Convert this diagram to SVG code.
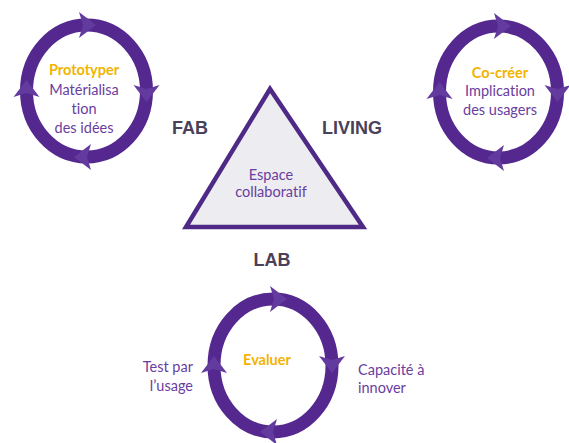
<svg xmlns="http://www.w3.org/2000/svg" xmlns:xlink="http://www.w3.org/1999/xlink" width="569" height="443" viewBox="0 0 569 443">
<style>
.ring{fill:none;stroke:#55288f;stroke-width:13}
.ah{fill:#633a9e}
.t{font-family:Lato,"Liberation Sans",sans-serif;font-size:14.5px;fill:#6a3d9e;text-anchor:middle;font-variant-ligatures:none}
.y{font-family:Lato,"Liberation Sans",sans-serif;font-size:14.5px;font-weight:bold;fill:#f1b400;text-anchor:middle}
.lab{font-family:"Liberation Sans",Arial,sans-serif;font-size:18px;font-weight:bold;fill:#4b4059;text-anchor:middle}
</style>
<defs>
<polygon id="ah" points="-7,-13 10,0 -7,13 -3,0"/>
</defs>
<rect width="569" height="443" fill="#ffffff"/>
<g id="fab">
<ellipse class="ring" cx="86.5" cy="91" rx="60" ry="66"/>
<use xlink:href="#ah" class="ah" transform="translate(86,25)"/>
<use xlink:href="#ah" class="ah" transform="translate(146.5,92) rotate(90)"/>
<use xlink:href="#ah" class="ah" transform="translate(84,157) rotate(180)"/>
<use xlink:href="#ah" class="ah" transform="translate(26.5,90) rotate(-90)"/>
<text class="y" x="84" y="75">Prototyper</text>
<text class="t" x="84" y="95">Matérialisa</text>
<text class="t" x="84" y="114">tion</text>
<text class="t" x="84" y="133">des idées</text>
</g>
<g id="living">
<ellipse class="ring" cx="498.5" cy="92" rx="59" ry="66"/>
<use xlink:href="#ah" class="ah" transform="translate(501,26)"/>
<use xlink:href="#ah" class="ah" transform="translate(557.5,92) rotate(90)"/>
<use xlink:href="#ah" class="ah" transform="translate(497,158) rotate(180)"/>
<use xlink:href="#ah" class="ah" transform="translate(439.5,92) rotate(-90)"/>
<text class="y" x="500" y="78">Co-créer</text>
<text class="t" x="500" y="96">Implication</text>
<text class="t" x="500" y="115">des usagers</text>
</g>
<g id="lab">
<ellipse class="ring" cx="273" cy="365.5" rx="59" ry="66.5"/>
<use xlink:href="#ah" class="ah" transform="translate(277,299)"/>
<use xlink:href="#ah" class="ah" transform="translate(332,363) rotate(90)"/>
<use xlink:href="#ah" class="ah" transform="translate(270,432) rotate(180)"/>
<use xlink:href="#ah" class="ah" transform="translate(214,366) rotate(-90)"/>
<text class="y" x="267" y="365">Evaluer</text>
</g>
<g id="espace">
<polygon points="270,89 186,227 363,227" fill="#ececf1" stroke="#4e2a86" stroke-width="4.5" stroke-linejoin="miter"/>
<text class="t" x="271" y="180">Espace</text>
<text class="t" x="271" y="197">collaboratif</text>
</g>
<g id="labels">
<text class="lab" x="190" y="134">FAB</text>
<text class="lab" x="352" y="134">LIVING</text>
<text class="lab" x="272" y="266">LAB</text>
</g>
<g id="side-texts">
<text class="t" x="193" y="372" style="text-anchor:end">Test par</text>
<text class="t" x="193" y="391" style="text-anchor:end">l’usage</text>
<text class="t" x="358" y="375" style="text-anchor:start">Capacité à</text>
<text class="t" x="358" y="393" style="text-anchor:start">innover</text>
</g>
<g id="connectors"></g>
</svg>
